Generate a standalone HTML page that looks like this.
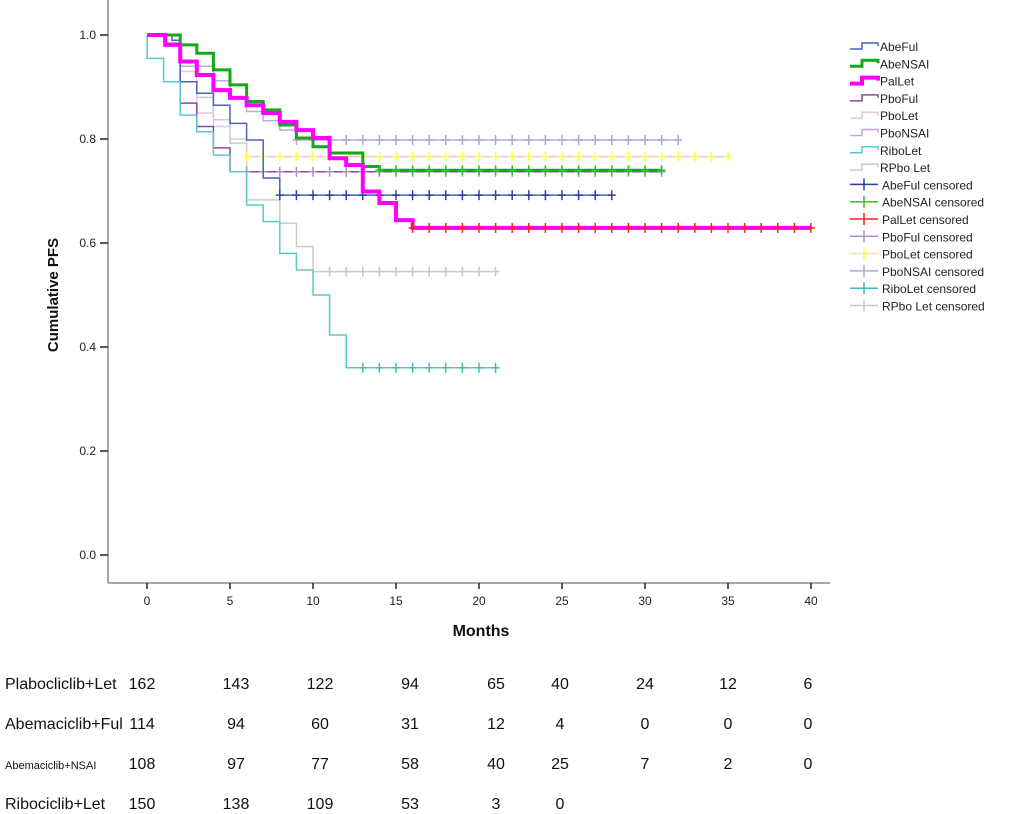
<!DOCTYPE html>
<html><head><meta charset="utf-8"><style>
body{margin:0;background:#fff;width:1020px;height:814px;overflow:hidden;font-family:"Liberation Sans",sans-serif}
svg{display:block}
</style></head><body>
<svg id="chart" width="1020" height="814" xmlns="http://www.w3.org/2000/svg"></svg>
<script>
const seriesNames=["AbeFul","AbeNSAI","PalLet","PboFul","PboLet","PboNSAI","RiboLet","RPbo Let"];
const seriesColors=["#4a62b8","#14a814","#ff00ff","#8a4a9a","#e0c8e0","#c0a8d8","#5cc8cc","#cccccc"];
const censorColors=["#2a40a0","#30c030","#ff2020","#a890c8","#ffff40","#b8a0d8","#40b8c0","#c8c8c8"];
const seriesWidths=[1.5,3,4,1.5,1.5,1.5,1.5,1.5];
const stepTimes=[
 [0,1.5,2,3,4,5,6,7,8],
 [0,2,3,4,5,6,7,8,9,10,11,13,14],
 [0,1.1,2,3,4,5,6,7,8,9,10,11,12,13,14,15,16],
 [0,2,3,4,5],
 [0,2,3,4,5,6],
 [0,1,2,4,5,6,7,8,9],
 [0,0.01,1,2,3,4,5,6,7,8,9,10,11,12],
 [0,2,3,4,5,6,8,9,10]];
const stepValues=[
 [1,0.99,0.91,0.888,0.865,0.83,0.798,0.725,0.692],
 [1,0.981,0.965,0.933,0.904,0.872,0.856,0.827,0.802,0.785,0.773,0.747,0.74],
 [1,0.981,0.949,0.923,0.894,0.879,0.865,0.85,0.833,0.817,0.802,0.763,0.75,0.699,0.677,0.644,0.629],
 [1,0.869,0.824,0.783,0.737],
 [1,0.93,0.85,0.824,0.8,0.766],
 [1,0.985,0.94,0.912,0.88,0.853,0.835,0.817,0.798],
 [1,0.955,0.91,0.846,0.814,0.769,0.737,0.673,0.641,0.58,0.548,0.5,0.423,0.36],
 [1,0.91,0.88,0.837,0.792,0.683,0.638,0.593,0.545]];
const endTimes=[28,31,40,31,35,32,21,21];
const censorStart=[8,14,16,6,6,9,13,11];
const xTicks=[0,5,10,15,20,25,30,35,40];
const yTicks=[0,0.2,0.4,0.6,0.8,1.0];
const riskGroups=["Plabocliclib+Let","Abemaciclib+Ful","Abemaciclib+NSAI","Ribociclib+Let"];
const riskCounts=[[162,143,122,94,65,40,24,12,6],[114,94,60,31,12,4,0,0,0],[108,97,77,58,40,25,7,2,0],[150,138,109,53,3,0]];
const riskCols=[142,236,320,410,496,560,645,728,808];

const NS="http://www.w3.org/2000/svg";
const svg=document.getElementById('chart');
function X(t){return 147+t*16.6;}
function Y(v){return 555-v*520;}
function el(tag,at,parent){const e=document.createElementNS(NS,tag);for(const k in at)e.setAttribute(k,at[k]);(parent||svg).appendChild(e);return e;}
function txt(s,at,parent){const e=el('text',at,parent);e.textContent=s;return e;}

// axes
const ax=el('g',{});


el('line',{x1:108,y1:0,x2:108,y2:583,stroke:'#888','stroke-width':1.5},ax);
el('line',{x1:108,y1:583,x2:830,y2:583,stroke:'#888','stroke-width':1.5},ax);
yTicks.forEach(v=>{
 el('line',{x1:100,y1:Y(v),x2:108,y2:Y(v),stroke:'#222','stroke-width':1.5},ax);
 const t=txt(v.toFixed(1),{x:96,y:Y(v)+4,'text-anchor':'end','font-size':12,fill:'#222'},ax);
 
 
});
xTicks.forEach(v=>{
 el('line',{x1:X(v),y1:583,x2:X(v),y2:589,stroke:'#222','stroke-width':1.5},ax);
 const t=txt(String(v),{x:X(v),y:605,'text-anchor':'middle','font-size':12,fill:'#222'},ax);
 
 
});
const xt=txt('Months',{x:481,y:636,'text-anchor':'middle','font-size':16,'font-weight':'bold',fill:'#111'});


const yt=txt('Cumulative PFS',{x:0,y:0,transform:'translate(58,295) rotate(-90)','text-anchor':'middle','font-size':15,'font-weight':'bold',fill:'#111'});



// series (draw thin first, thick later)
const order=[7,4,5,3,0,6,1,2];
order.forEach(i=>{
 const ts=stepTimes[i],vs=stepValues[i];
 let d='M'+X(ts[0])+','+Y(vs[0]);
 for(let k=1;k<ts.length;k++){d+=' H'+X(ts[k])+' V'+Y(vs[k]);}
 d+=' H'+X(endTimes[i]);
 const p=el('path',{d:d,fill:'none',stroke:seriesColors[i],'stroke-width':seriesWidths[i]});
 
 
 const last=vs[vs.length-1];
 const g=el('g',{stroke:censorColors[i],'stroke-width':1.5});
 
 
 for(let t=censorStart[i];t<=endTimes[i];t++){
  el('line',{x1:X(t),y1:Y(last)-5,x2:X(t),y2:Y(last)+5},g);
  el('line',{x1:X(t)-4,y1:Y(last),x2:X(t)+4,y2:Y(last)},g);
 }
});

// legend
const lg=el('g',{});


for(let i=0;i<16;i++){
 const y=46+i*17.3;
 const s=i%8;
 const e=el('g',{},lg);
 
 
 if(i<8){
  el('path',{d:`M850,${y+3} H862 V${y-3} H878 V${y}`,fill:'none',stroke:seriesColors[s],'stroke-width':seriesWidths[s]},e);
  txt(seriesNames[s],{x:880,y:y+5,'font-size':12,fill:'#222'},e);
 }else{
  el('line',{x1:850,y1:y,x2:878,y2:y,stroke:censorColors[s],'stroke-width':1.5},e);
  el('line',{x1:864,y1:y-6,x2:864,y2:y+6,stroke:censorColors[s],'stroke-width':1.5},e);
  txt(seriesNames[s]+' censored',{x:882,y:y+5,'font-size':12,fill:'#222'},e);
 }
}

// risk table
const rt=el('g',{});


riskGroups.forEach((g,r)=>{
 const y=689+r*40;
 const lab=txt(g,{x:5,y:y,'font-size':r==2?11:16,fill:'#111'},rt);
 
 
 riskCounts[r].forEach((n,c)=>{
  const t=txt(String(n),{x:riskCols[c],y:y,'text-anchor':'middle','font-size':16,fill:'#111'},rt);
  
  
 });
});
</script>
</body></html>
